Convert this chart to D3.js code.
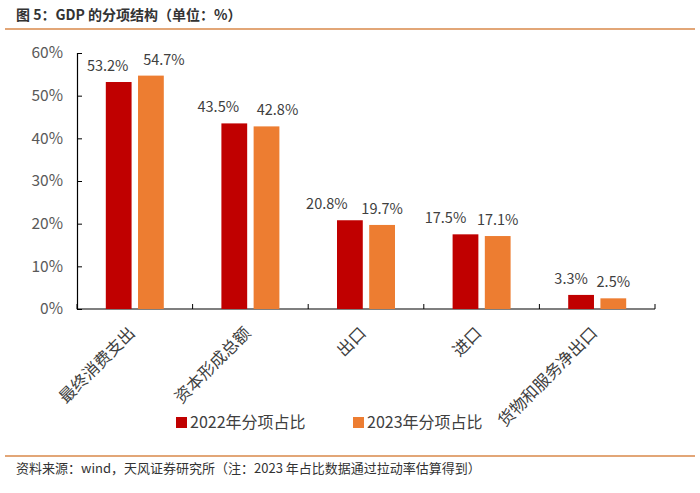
<!DOCTYPE html>
<html><head><meta charset="utf-8">
<script src="https://cdn.jsdelivr.net/npm/d3@7"></script>
<style>body{margin:0;background:#fff}svg{display:block}</style>
</head><body><svg id="c" width="700" height="493"></svg>
<script>
const categories = ["最终消费支出","资本形成总额","出口","进口","货物和服务净出口"];
const values2022 = [53.2, 43.5, 20.8, 17.5, 3.3];
const values2023 = [54.7, 42.8, 19.7, 17.1, 2.5];
const seriesNames = ["2022年分项占比","2023年分项占比"];
const yTicks = [0,10,20,30,40,50,60];
const colors = ["#C00000","#ED7D31"];
const font = "'Microsoft YaHei','Noto Sans CJK SC',sans-serif";
// label nudges (layout only) to keep value labels apart
const labelDx = [[-11,-16,-23,-20,-10],[13,11,0,0,0]];

const svg = d3.select("#c");
svg.append("text").attr("x",16).attr("y",20).attr("font-family",font).attr("font-size",14).attr("font-weight","bold").attr("fill","#333").text("图 5：GDP 的分项结构（单位：%）");
svg.append("line").attr("x1",5).attr("x2",695).attr("y1",29).attr("y2",29).attr("stroke","#D9884A").attr("stroke-width",1.5);
svg.append("line").attr("x1",5).attr("x2",695).attr("y1",456).attr("y2",456).attr("stroke","#D9884A").attr("stroke-width",1.5);
svg.append("text").attr("x",16).attr("y",473).attr("font-family",font).attr("font-size",13).attr("fill","#333").text("资料来源：wind，天风证券研究所（注：2023 年占比数据通过拉动率估算得到）");

const x0 = d3.scaleBand().domain(categories).range([77,655]);
const x1 = d3.scaleBand().domain([0,1]).range([0,58]).paddingInner(0.2);
const y = d3.scaleLinear().domain([0,60]).range([309,53]);

const g = svg.append("g");
const ya = g.append("g").attr("transform","translate(77,0)").call(d3.axisLeft(y).tickValues(yTicks).tickFormat(d=>d+"%").tickSizeOuter(0).tickSize(-5));
ya.select(".domain").attr("stroke","#000").attr("stroke-width",1.2);
ya.selectAll(".tick line").attr("stroke","#000");
ya.selectAll(".tick text").attr("x",-14).attr("font-family",font).attr("font-size",15.5).attr("fill","#595959");
const xa = g.append("g").attr("transform","translate(0,309)");
xa.append("line").attr("x1",77).attr("x2",655).attr("stroke","#000").attr("stroke-width",1.2);
const tickPos = categories.map(c=>x0(c)).concat([655]);
xa.selectAll(".tk").data(tickPos).enter().append("line").attr("x1",d=>d).attr("x2",d=>d).attr("y1",0).attr("y2",-5).attr("stroke","#000");

const series = [values2022, values2023];
series.forEach((vals,si)=>{
  const bx = i => x0(categories[i]) + (x0.bandwidth()-58)/2 + x1(si);
  g.selectAll(".b"+si).data(vals).enter().append("rect")
    .attr("x",(d,i)=>bx(i))
    .attr("y",d=>y(d)).attr("width",x1.bandwidth()).attr("height",d=>309-y(d)).attr("fill",colors[si]);
  g.selectAll(".l"+si).data(vals).enter().append("text")
    .attr("x",(d,i)=>bx(i) + x1.bandwidth()/2 + labelDx[si][i])
    .attr("y",d=>y(d)-11).attr("text-anchor","middle").attr("font-family",font).attr("font-size",14.5).attr("fill","#404040")
    .text(d=>d.toFixed(1)+"%");
});

g.selectAll(".cl").data(categories).enter().append("text")
  .attr("transform",d=>`translate(${x0(d)+x0.bandwidth()/2-2},${331}) rotate(-45)`)
  .attr("text-anchor","end").attr("dominant-baseline","middle").attr("font-family",font).attr("font-size",16.5).attr("fill","#404040").text(d=>d);

const lx = [176, 353];
seriesNames.forEach((n,i)=>{
  svg.append("rect").attr("x",lx[i]).attr("y",417).attr("width",11).attr("height",11).attr("fill",colors[i]);
  svg.append("text").attr("x",lx[i]+14).attr("y",428).attr("font-family",font).attr("font-size",16).attr("fill","#404040").text(n);
});
</script></body></html>
